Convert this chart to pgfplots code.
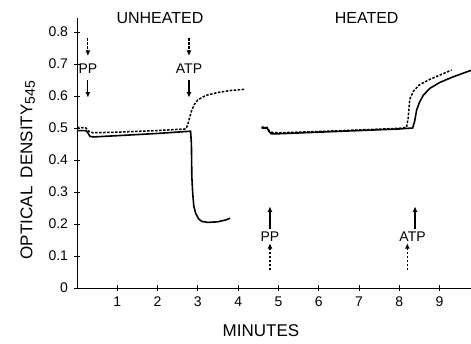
\documentclass[border=0pt]{standalone}
\usepackage{pgfplots}
\pgfplotsset{compat=1.18}
\usepackage{fontspec}
\setmainfont{Liberation Sans}
\usetikzlibrary{arrows.meta}

\begin{document}
\begin{tikzpicture}[x=1pt,y=1pt]
\useasboundingbox (-77,-55) rectangle (394,288);
\begin{axis}[
  at={(0,0)}, anchor=origin,
  scale only axis,
  width=394pt, height=270.4pt,
  xmin=0, xmax=9.78,
  ymin=0, ymax=0.845,
  axis x line=bottom, axis y line=left,
  axis line style={-, line width=0.9pt},
  tick align=center,
  major tick length=6pt,
  tick style={line width=0.9pt, black},
  xtick={1,2,...,9},
  ytick={0,0.1,...,0.8},
  yticklabels={0,0.1,0.2,0.3,0.4,0.5,0.6,0.7,0.8},
  /pgf/number format/assume math mode=true,
  ticklabel style={font=\fontsize{14}{16}\selectfont},
  yticklabel style={xshift=-2.5pt},
  xticklabel style={yshift=-2pt},
  xlabel={MINUTES},
  ylabel={OPTICAL\hspace{0.5em}DENSITY\raisebox{-0.3ex}{\fontsize{14}{16}\selectfont 545}},
  label style={font=\fontsize{17}{20}\selectfont},
  xlabel style={at={(axis description cs:0.467,-0.156)}, anchor=center},
  ylabel style={at={(axis description cs:-0.125,0.436)}, anchor=center},
  clip=false,
]
% unheated, solid trace
\addplot[black, line width=1.6pt] coordinates {
 (0,0.492) (0.22,0.492) (0.27,0.485) (0.32,0.474) (0.4,0.472) (1,0.476)
 (2,0.483) (2.82,0.49) (2.84,0.45) (2.85,0.35) (2.87,0.3) (2.9,0.255)
 (2.95,0.232) (3.02,0.216) (3.1,0.208) (3.25,0.205) (3.5,0.207)
 (3.7,0.213) (3.8,0.218)
};
% unheated, dashed trace
\addplot[black, line width=1.5pt, dash pattern=on 2.5pt off 1.5pt] coordinates {
 (0,0.502) (0.22,0.5) (0.3,0.489) (0.4,0.485) (1,0.487) (2,0.492)
 (2.7,0.497) (2.75,0.51) (2.8,0.535) (2.85,0.556) (2.92,0.575)
 (3.0,0.588) (3.2,0.602) (3.5,0.611) (3.8,0.617) (4.17,0.621)
};
% heated, solid trace
\addplot[black, line width=1.6pt] coordinates {
 (4.58,0.5) (4.72,0.5) (4.76,0.49) (4.82,0.482) (5,0.482) (6,0.487)
 (7,0.492) (8,0.497) (8.33,0.5) (8.38,0.52) (8.43,0.556) (8.5,0.58)
 (8.6,0.603) (8.76,0.624) (9.0,0.642) (9.3,0.658) (9.6,0.672) (9.78,0.68)
};
% heated, dashed trace
\addplot[black, line width=1.5pt, dash pattern=on 2.5pt off 1.5pt] coordinates {
 (4.58,0.503) (4.72,0.502) (4.78,0.49) (4.85,0.486) (5,0.485) (6,0.489)
 (7,0.494) (8,0.499) (8.18,0.502) (8.22,0.53) (8.26,0.59) (8.35,0.615)
 (8.5,0.635) (8.76,0.652) (9.0,0.665) (9.3,0.681)
};

% additions: PP and ATP
\tikzset{arr/.style={line width=1.1pt, -{Latex[length=5.5pt,width=5pt]}},
         darr/.style={arr, dash pattern=on 2.5pt off 1.5pt}}
\draw[darr] (axis cs:0.27,0.78) -- (axis cs:0.27,0.725);
\draw[arr]  (axis cs:0.27,0.65) -- (axis cs:0.27,0.595);
\node[font=\fontsize{14}{16}\selectfont] at (axis cs:0.27,0.685) {PP};
\draw[darr] (axis cs:2.78,0.78) -- (axis cs:2.78,0.725);
\draw[arr]  (axis cs:2.78,0.65) -- (axis cs:2.78,0.595);
\node[font=\fontsize{14}{16}\selectfont] at (axis cs:2.78,0.685) {ATP};

\draw[arr]  (axis cs:4.79,0.185) -- (axis cs:4.79,0.255);
\draw[darr] (axis cs:4.79,0.055) -- (axis cs:4.79,0.14);
\node[font=\fontsize{14}{16}\selectfont] at (axis cs:4.79,0.16) {PP};
\draw[arr]  (axis cs:8.39,0.185) -- (axis cs:8.39,0.255);
\draw[darr] (axis cs:8.2,0.055) -- (axis cs:8.2,0.14);
\node[font=\fontsize{14}{16}\selectfont] at (axis cs:8.33,0.16) {ATP};

\node[font=\fontsize{16}{19}\selectfont] at (axis cs:2.06,0.844) {UNHEATED};
\node[font=\fontsize{16}{19}\selectfont] at (axis cs:7.19,0.844) {HEATED};
\end{axis}
\end{tikzpicture}
\end{document}
